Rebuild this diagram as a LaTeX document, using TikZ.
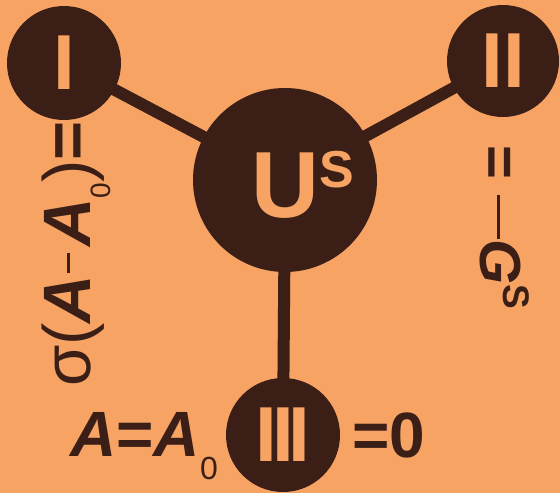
\documentclass[tikz,border=0pt]{standalone}
\usepackage{fontspec}
\setmainfont{Liberation Sans}

\definecolor{paper}{RGB}{246,163,100}
\definecolor{ink}{RGB}{59,31,23}

\newcommand*{\minusbar}[1]{\rule[0.3em]{#1}{0.05em}}
\newcommand*{\subnull}[1]{\raisebox{-0.72\dimexpr#1\relax}{\fontsize{#1}{#1}\selectfont 0}}
\newcommand*{\bi}[1]{\textbf{\textit{#1}}}

\begin{document}
\begin{tikzpicture}
[
	x=1pt, y=-1pt,
	ball/.style={circle,fill=ink,inner sep=0pt},
	numeral/.style={text=paper,font=\fontsize{78}{78}\bfseries},
	bond/.style={ink,line width=12pt,shorten <=-2pt,shorten >=-2pt},
	formula/.style={text=ink,inner sep=0pt,anchor=base west}
]

	% background
	\useasboundingbox (0,0) rectangle (560,493);
	\clip (0,0) rectangle (560,493);
	\fill[paper] (0,0) rectangle (560,493);

	% phases
	\node[ball,numeral,minimum size=114pt] at (64,63) (one) {I};
	\node[ball,numeral,minimum size=112pt] at (503,61) (two) {II};
	\node[ball,numeral,minimum size=114pt] at (283,435) (three) {I\kern-5pt I\kern-5pt I};
	\node[ball,minimum size=184pt] at (285,180) (us) {};
	\node[text=paper,inner sep=0pt,anchor=base west,font=\fontsize{94}{94}\bfseries]
		at (251,217) (uslabel) {U\raisebox{30pt}{\fontsize{52}{52}\selectfont S}};

	% bonds
	\draw[bond] (one) -- (us);
	\draw[bond] (two) -- (us);
	\draw[bond] (us) -- (three);

	% conditions
	\node[formula,rotate=90,font=\fontsize{67}{67}\selectfont] at (90,387) (left)
		{σ(\bi{A}\kern2pt\minusbar{20pt}\kern6pt\bi{A}\subnull{28pt})\textbf{=}};
	\node[formula,rotate=-90,font=\fontsize{58}{58}\selectfont] at (480,145) (right)
		{\textbf{=}\kern16pt\minusbar{44pt}\bi{G}\raisebox{23pt}{\fontsize{37}{37}\bfseries S}};
	\node[formula,font=\fontsize{64}{64}\selectfont] at (70,456) (bottomleft)
		{\bi{A}\textbf{=}\bi{A}\subnull{32pt}};
	\node[formula,font=\fontsize{64}{64}\bfseries] at (352,457) (bottomright) {=0};

\end{tikzpicture}
\end{document}
